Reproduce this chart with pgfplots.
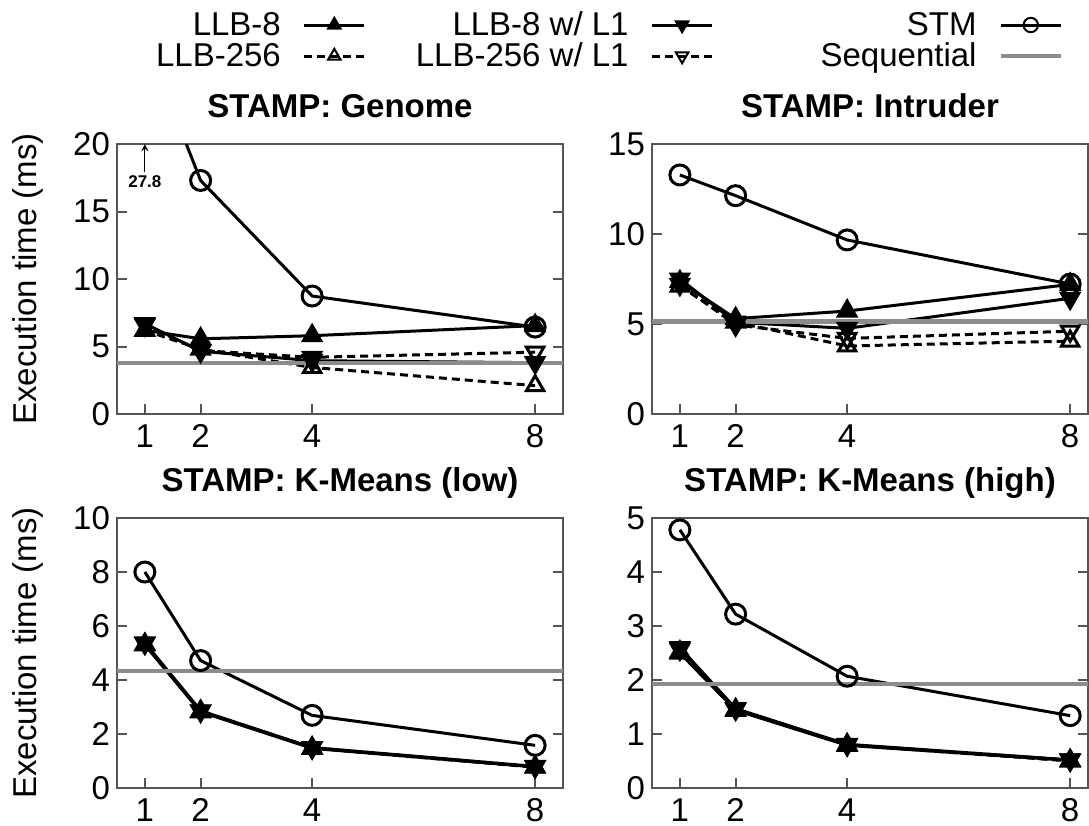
\documentclass[border=0pt]{standalone}
\usepackage{fontspec}
\setmainfont{Liberation Sans}
\usepackage{pgfplots}
\pgfplotsset{compat=1.18}
\newcommand\fs{\fontsize{16.5}{19}\selectfont}
\definecolor{seqgray}{RGB}{140,140,140}
\definecolor{framegray}{RGB}{85,85,85}
\pgfplotsset{
  panel/.style={
    scale only axis, height=135pt,
    xmin=0.5, ymin=0,
    xtick={1,2,4,8},
    xtick pos=left, ytick pos=both,
    tick align=inside,
    major tick length=5pt,
    minor tick num=0,
    axis line style={framegray, line width=1pt},
    every tick/.style={framegray, line width=1pt},
    tick label style={font=\fs},
    /pgf/number format/assume math mode=true,
    xticklabel style={anchor=base, yshift=-16.5pt},
    title style={font=\fs\bfseries, anchor=base, at={(0.5,1)}, yshift=7.5pt},
    ylabel style={font=\fs, at={(axis description cs:-0.1996,0.5)}, anchor=center},
    legend image code/.code={\draw[mark repeat=2,mark phase=2,##1] plot coordinates {(0pt,0pt) (15pt,0pt) (30pt,0pt)};},
    legend image post style={mark size=3.6pt, every mark/.append style={line width=1pt}},
  },
  llb8/.style={black, line width=1.5pt, mark=triangle*, mark size=5pt, mark options={solid, fill=black}},
  llb8l1/.style={black, line width=1.5pt, mark=triangle*, mark size=5pt, mark options={solid, rotate=180, fill=black}},
  stm/.style={black, line width=1.5pt, mark=o, mark size=5pt, mark options={solid}},
  llb256/.style={black, line width=1.5pt, dash pattern=on 4pt off 2.5pt, mark=triangle, mark size=5pt, mark options={solid}},
  llb256l1/.style={black, line width=1.5pt, dash pattern=on 4pt off 2.5pt, mark=triangle, mark size=5pt, mark options={solid, rotate=180}},
  seq/.style={seqgray, line width=2.2pt, no marks},
}
\begin{document}
\begin{tikzpicture}
\useasboundingbox (0,0) rectangle (544.5pt,-413pt);
% ---------- Genome ----------
\begin{axis}[panel, at={(58.5pt,-207pt)}, anchor=south west, width=223pt,
  xmax=8.5, ymax=20, ytick={0,5,10,15,20},
  title={STAMP: Genome}, ylabel={Execution time (ms)},
  legend columns=3, legend plot pos=right, legend cell align=right,
  legend style={draw=none, fill=none, inner sep=0pt, outer sep=0pt,
    at={(2.1211,1.4926)}, anchor=north east, font=\fs,
    nodes={inner sep=0pt, text height=12pt, text depth=2pt},
    /tikz/row sep=1.5pt,
    /tikz/column 1/.style={column sep=11pt},
    /tikz/column 2/.style={column sep=25pt},
    /tikz/column 3/.style={column sep=11pt},
    /tikz/column 4/.style={column sep=53.5pt},
    /tikz/column 5/.style={column sep=11pt}},
]
\addplot[llb8] coordinates {(1,6.2) (2,5.57) (4,5.8) (8,6.55)};
\addlegendentry{LLB-8}
\addplot[llb8l1] coordinates {(1,6.7) (2,4.65) (4,3.95) (8,3.8)};
\addlegendentry{LLB-8 w/ L1}
\addplot[stm] coordinates {(1,27.8) (2,17.3) (4,8.74) (8,6.44)};
\addlegendentry{STM}
\addplot[llb256] coordinates {(1,6.2) (2,4.8) (4,3.45) (8,2.1)};
\addlegendentry{LLB-256}
\addplot[llb256l1] coordinates {(1,6.6) (2,4.7) (4,4.2) (8,4.58)};
\addlegendentry{LLB-256 w/ L1}
\addplot[seq] coordinates {(0.5,3.8) (8.5,3.8)};
\addlegendentry{Sequential}
\draw[-stealth, line width=0.6pt] (axis cs:1,17.9) -- (axis cs:1,20);
\node[font=\bfseries\fontsize{8.5}{10}\selectfont] at (axis cs:1,17.2) {27.8};
\end{axis}
% ---------- Intruder ----------
\begin{axis}[panel, at={(326pt,-207pt)}, anchor=south west, width=218pt,
  xmax=8.32, ymax=15, ytick={0,5,10,15},
  title={STAMP: Intruder},
]
\addplot[llb8] coordinates {(1,7.35) (2,5.3) (4,5.72) (8,7.2)};
\addplot[llb8l1] coordinates {(1,7.5) (2,5.1) (4,4.76) (8,6.43)};
\addplot[stm] coordinates {(1,13.28) (2,12.13) (4,9.67) (8,7.22)};
\addplot[llb256] coordinates {(1,7.1) (2,5.1) (4,3.78) (8,4.05)};
\addplot[llb256l1] coordinates {(1,7.2) (2,4.95) (4,4.2) (8,4.6)};
\addplot[seq] coordinates {(0.5,5.13) (8.5,5.13)};
\end{axis}
% ---------- K-Means (low) ----------
\begin{axis}[panel, at={(58.5pt,-394pt)}, anchor=south west, width=223pt,
  xmax=8.5, ymax=10, ytick={0,2,4,6,8,10},
  title={STAMP: K-Means (low)}, ylabel={Execution time (ms)},
]
\addplot[llb8] coordinates {(1,5.3) (2,2.82) (4,1.47) (8,0.78)};
\addplot[llb8l1] coordinates {(1,5.38) (2,2.86) (4,1.5) (8,0.8)};
\addplot[stm] coordinates {(1,8.0) (2,4.72) (4,2.69) (8,1.58)};
\addplot[llb256] coordinates {(1,5.32) (2,2.84) (4,1.48) (8,0.77)};
\addplot[llb256l1] coordinates {(1,5.36) (2,2.85) (4,1.49) (8,0.79)};
\addplot[seq] coordinates {(0.5,4.33) (8.5,4.33)};
\end{axis}
% ---------- K-Means (high) ----------
\begin{axis}[panel, at={(326pt,-394pt)}, anchor=south west, width=218pt,
  xmax=8.32, ymax=5, ytick={0,1,2,3,4,5},
  title={STAMP: K-Means (high)},
]
\addplot[llb8] coordinates {(1,2.5) (2,1.44) (4,0.79) (8,0.51)};
\addplot[llb8l1] coordinates {(1,2.6) (2,1.47) (4,0.81) (8,0.52)};
\addplot[stm] coordinates {(1,4.78) (2,3.22) (4,2.07) (8,1.34)};
\addplot[llb256] coordinates {(1,2.52) (2,1.45) (4,0.8) (8,0.5)};
\addplot[llb256l1] coordinates {(1,2.57) (2,1.46) (4,0.8) (8,0.52)};
\addplot[seq] coordinates {(0.5,1.93) (8.5,1.93)};
\end{axis}
\end{tikzpicture}
\end{document}
